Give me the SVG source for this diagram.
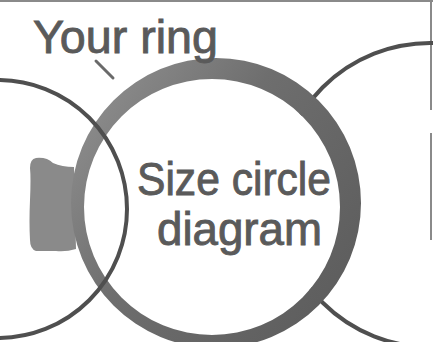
<svg xmlns="http://www.w3.org/2000/svg" width="433" height="342" viewBox="0 0 433 342">
  <defs>
    <linearGradient id="ringGrad" gradientUnits="userSpaceOnUse" x1="90" y1="70" x2="360" y2="260">
      <stop offset="0" stop-color="#909090"/>
      <stop offset="0.45" stop-color="#6e6e6e"/>
      <stop offset="1" stop-color="#5e5e5e"/>
    </linearGradient>
    <style>
      .thin { fill: none; stroke: #4f4f4f; stroke-width: 4; }
      .lbl { font-family: "Liberation Sans", Arial, sans-serif; fill: #5a5a5a; stroke: #5a5a5a; stroke-width: 0.9; }
      .frame { stroke: #8a8a8a; stroke-width: 2; fill: none; }
    </style>
  </defs>
  <rect x="0" y="0" width="433" height="342" fill="#ffffff"/>
  <line class="frame" x1="0" y1="1" x2="433" y2="1"/>
  <line class="frame" x1="431" y1="0" x2="431" y2="110"/>
  <line class="frame" x1="431" y1="133" x2="431" y2="240"/>

  <g id="right-circle">
    <circle class="thin" cx="430" cy="195" r="152"/>
  </g>

  <g id="ring">
    <circle cx="212" cy="207" r="128" fill="#ffffff"/>
    <path d="M36,158 Q47,157 53,163 Q62,167 74,167 L76,249 Q66,252 56,251 L36,251 Q30,249 30,240 Q29,222 30,200 Q31,178 30,168 Q30,159 36,158 Z" fill="#8a8a8a"/>
    <path fill="url(#ringGrad)" fill-rule="evenodd" d="M71,203 A145,145 0 1,0 361,203 A145,145 0 1,0 71,203 Z M84,207 A128,128 0 1,0 340,207 A128,128 0 1,0 84,207 Z"/>
  </g>

  <g id="left-circle">
    <circle class="thin" cx="-2" cy="209" r="129"/>
  </g>

  <g id="connectors">
    <line x1="96" y1="61" x2="113" y2="78" stroke="#6a6a6a" stroke-width="3" stroke-linecap="round"/>
  </g>

  <g id="label-your-ring">
    <text class="lbl" x="33" y="53" font-size="46" textLength="185" lengthAdjust="spacingAndGlyphs">Your ring</text>
  </g>

  <g id="label-size-circle">
    <text class="lbl" x="137" y="195" font-size="46" textLength="194" lengthAdjust="spacingAndGlyphs">Size circle</text>
    <text class="lbl" x="157" y="245" font-size="46" textLength="165" lengthAdjust="spacingAndGlyphs">diagram</text>
  </g>
</svg>
